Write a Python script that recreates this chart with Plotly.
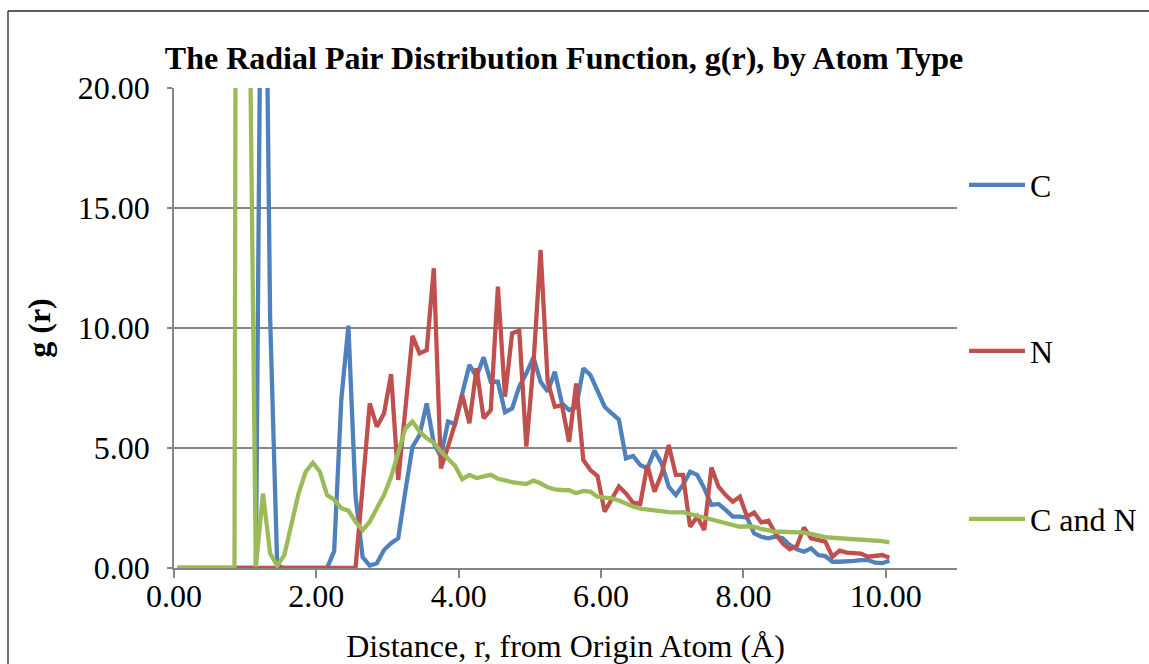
import plotly.graph_objects as go

# Distance grid (Å), bin centres
r = [0.05, 0.15, 0.25, 0.35, 0.45, 0.55, 0.65, 0.75, 0.85, 0.95,
     1.05, 1.15, 1.25, 1.35, 1.45, 1.55, 1.65, 1.75, 1.85, 1.95,
     2.05, 2.15, 2.25, 2.35, 2.45, 2.55, 2.65, 2.75, 2.85, 2.95,
     3.05, 3.15, 3.25, 3.35, 3.45, 3.55, 3.65, 3.75, 3.85, 3.95,
     4.05, 4.15, 4.25, 4.35, 4.45, 4.55, 4.65, 4.75, 4.85, 4.95,
     5.05, 5.15, 5.25, 5.35, 5.45, 5.55, 5.65, 5.75, 5.85, 5.95,
     6.05, 6.15, 6.25, 6.35, 6.45, 6.55, 6.65, 6.75, 6.85, 6.95,
     7.05, 7.15, 7.25, 7.35, 7.45, 7.55, 7.65, 7.75, 7.85, 7.95,
     8.05, 8.15, 8.25, 8.35, 8.45, 8.55, 8.65, 8.75, 8.85, 8.95,
     9.05, 9.15, 9.25, 9.35, 9.45, 9.55, 9.65, 9.75, 9.85, 9.95,
     10.05]

g_C = [0, 0, 0, 0, 0, 0, 0, 0, 0, 0,
       0, 0, 37.0, 10.5, 0.1, 0, 0, 0, 0, 0,
       0, 0, 0.7, 7.0, 10.1, 3.0, 0.45, 0.1, 0.2, 0.75,
       1.03, 1.24, 3.2, 5.05, 5.54, 6.86, 5.2, 4.64, 6.1, 6.0,
       7.28, 8.46, 7.97, 8.78, 7.76, 7.76, 6.49, 6.65, 7.56, 8.11,
       8.78, 7.76, 7.35, 8.18, 6.86, 6.58, 6.7, 8.32, 8.04, 7.42,
       6.72, 6.44, 6.18, 4.57, 4.67, 4.29, 4.15, 4.89, 4.36, 3.39,
       3.04, 3.46, 4.01, 3.88, 3.32, 2.63, 2.67, 2.42, 2.14, 2.14,
       2.1, 1.44, 1.3, 1.24, 1.31, 1.24, 0.96, 0.78, 0.68, 0.82,
       0.54, 0.5, 0.26, 0.26, 0.3, 0.3, 0.33, 0.33, 0.22, 0.2,
       0.3]

g_N = [0, 0, 0, 0, 0, 0, 0, 0, 0, 0,
       0, 0, 0, 0, 0, 0, 0, 0, 0, 0,
       0, 0, 0, 0, 0, 0, 3.4, 6.86, 5.89, 6.44,
       8.08, 3.67, 6.6, 9.67, 8.94, 9.08, 12.49, 4.15, 5.06, 6.03,
       7.21, 6.03, 8.32, 6.24, 6.58, 11.72, 7.14, 9.78, 9.89, 5.06,
       8.5, 13.25, 7.76, 6.72, 6.79, 5.26, 7.69, 4.5, 4.08, 3.83,
       2.35, 2.9, 3.4, 3.11, 2.72, 2.67, 4.29, 3.18, 3.92, 5.12,
       3.88, 3.88, 1.72, 2.14, 1.58, 4.19, 3.39, 3.04, 2.76, 2.97,
       2.14, 2.31, 1.9, 1.97, 1.44, 1.03, 0.78, 0.92, 1.69, 1.24,
       1.17, 1.1, 0.47, 0.72, 0.64, 0.64, 0.6, 0.47, 0.5, 0.54,
       0.43]

g_CN = [0, 0, 0, 0, 0, 0, 0, 0, 0, 150.0,
        27.0, 0.05, 3.1, 0.61, 0.1, 0.54, 1.86, 3.11, 4.01, 4.39,
        4.01, 3.04, 2.85, 2.49, 2.39, 1.93, 1.58, 1.93, 2.49, 3.04,
        3.8, 4.78, 5.82, 6.1, 5.68, 5.4, 5.22, 4.85, 4.57, 4.25,
        3.7, 3.88, 3.75, 3.8, 3.88, 3.72, 3.64, 3.58, 3.54, 3.5,
        3.64, 3.53, 3.36, 3.28, 3.25, 3.24, 3.12, 3.21, 3.18, 2.97,
        2.93, 2.9, 2.81, 2.67, 2.56, 2.47, 2.43, 2.42, 2.39, 2.33,
        2.32, 2.33, 2.25, 2.18, 2.08, 2.0, 1.93, 1.88, 1.83, 1.72,
        1.74, 1.71, 1.63, 1.56, 1.51, 1.51, 1.51, 1.5, 1.47, 1.42,
        1.35, 1.29, 1.26, 1.24, 1.21, 1.22, 1.2, 1.15, 1.13, 1.12,
        1.07]

series_names = ["C", "N", "C and N"]
series_values = [g_C, g_N, g_CN]
series_colors = ["#4F81BD", "#C0504D", "#9BBB59"]
x_ticks = [0, 2, 4, 6, 8, 10]
y_ticks = [0, 5, 10, 15, 20]

FONT = "Liberation Serif, Times New Roman, serif"
W, H = 1149, 664
L, R, T, B = 174, 192, 88, 96
PW, PH = W - L - R, H - T - B


def px2x(px):
    return (px - L) / PW


def py2y(py):
    return (H - B - py) / PH


fig = go.Figure()
legend_ids = ["legend", "legend2", "legend3"]
legend_py = [185, 351, 519]
for name, vals, col, lg in zip(series_names, series_values, series_colors, legend_ids):
    fig.add_trace(go.Scatter(x=r, y=vals, mode="lines", name=name,
                             line=dict(color=col, width=4.3), legend=lg))

leg_common = dict(font=dict(family=FONT, size=32, color="black"),
                  bgcolor="rgba(0,0,0,0)", borderwidth=0,
                  xanchor="left", yanchor="middle", itemwidth=56)
layout_legends = {}
for lg, py in zip(legend_ids, legend_py):
    layout_legends[lg] = dict(x=px2x(964), y=py2y(py), **leg_common)

fig.update_layout(
    width=W, height=H,
    margin=dict(l=L, r=R, t=T, b=B, autoexpand=False),
    paper_bgcolor="white", plot_bgcolor="white",
    font=dict(family=FONT, size=32, color="black"),
    title=dict(text="<b>The Radial Pair Distribution Function, g(r), by Atom Type</b>",
               x=564 / W, xanchor="center", y=1 - 58 / H, yanchor="middle",
               font=dict(family=FONT, size=32, color="black")),
    showlegend=True,
    **layout_legends,
    xaxis=dict(range=[0, 11], tickvals=x_ticks, tickformat=".2f",
               showgrid=False, zeroline=False, showline=True,
               linecolor="#868686", linewidth=1.5,
               ticks="outside", ticklen=8, tickcolor="#868686", tickwidth=1.5,
               ticklabelstandoff=-9,
               tickfont=dict(family=FONT, size=32, color="black"),
               title=dict(text="Distance, r, from Origin Atom (Å)",
                          font=dict(family=FONT, size=32, color="black"), standoff=24)),
    yaxis=dict(range=[0, 20], tickvals=y_ticks, tickformat=".2f",
               showgrid=True, gridcolor="#868686", gridwidth=1.5,
               zeroline=False, showline=True,
               linecolor="#868686", linewidth=1.5,
               ticks="outside", ticklen=5, tickcolor="#868686", tickwidth=1.5,
               ticklabelstandoff=11,
               tickfont=dict(family=FONT, size=32, color="black"),
               title=dict(text="<b>g (r)</b>",
                          font=dict(family=FONT, size=32, color="black"), standoff=18)),
)

# chart-area border (top and left edges visible in the reference)
fig.add_shape(type="line", xref="paper", yref="paper",
              x0=px2x(8), x1=px2x(1160), y0=py2y(11), y1=py2y(11),
              line=dict(color="#262626", width=1.3), layer="below")
fig.add_shape(type="line", xref="paper", yref="paper",
              x0=px2x(8), x1=px2x(8), y0=py2y(11), y1=py2y(700),
              line=dict(color="#262626", width=1.3), layer="below")

fig.write_html("out.html", config={"displayModeBar": False},
               post_script="document.body.style.margin='0';document.body.style.overflow='hidden';")
